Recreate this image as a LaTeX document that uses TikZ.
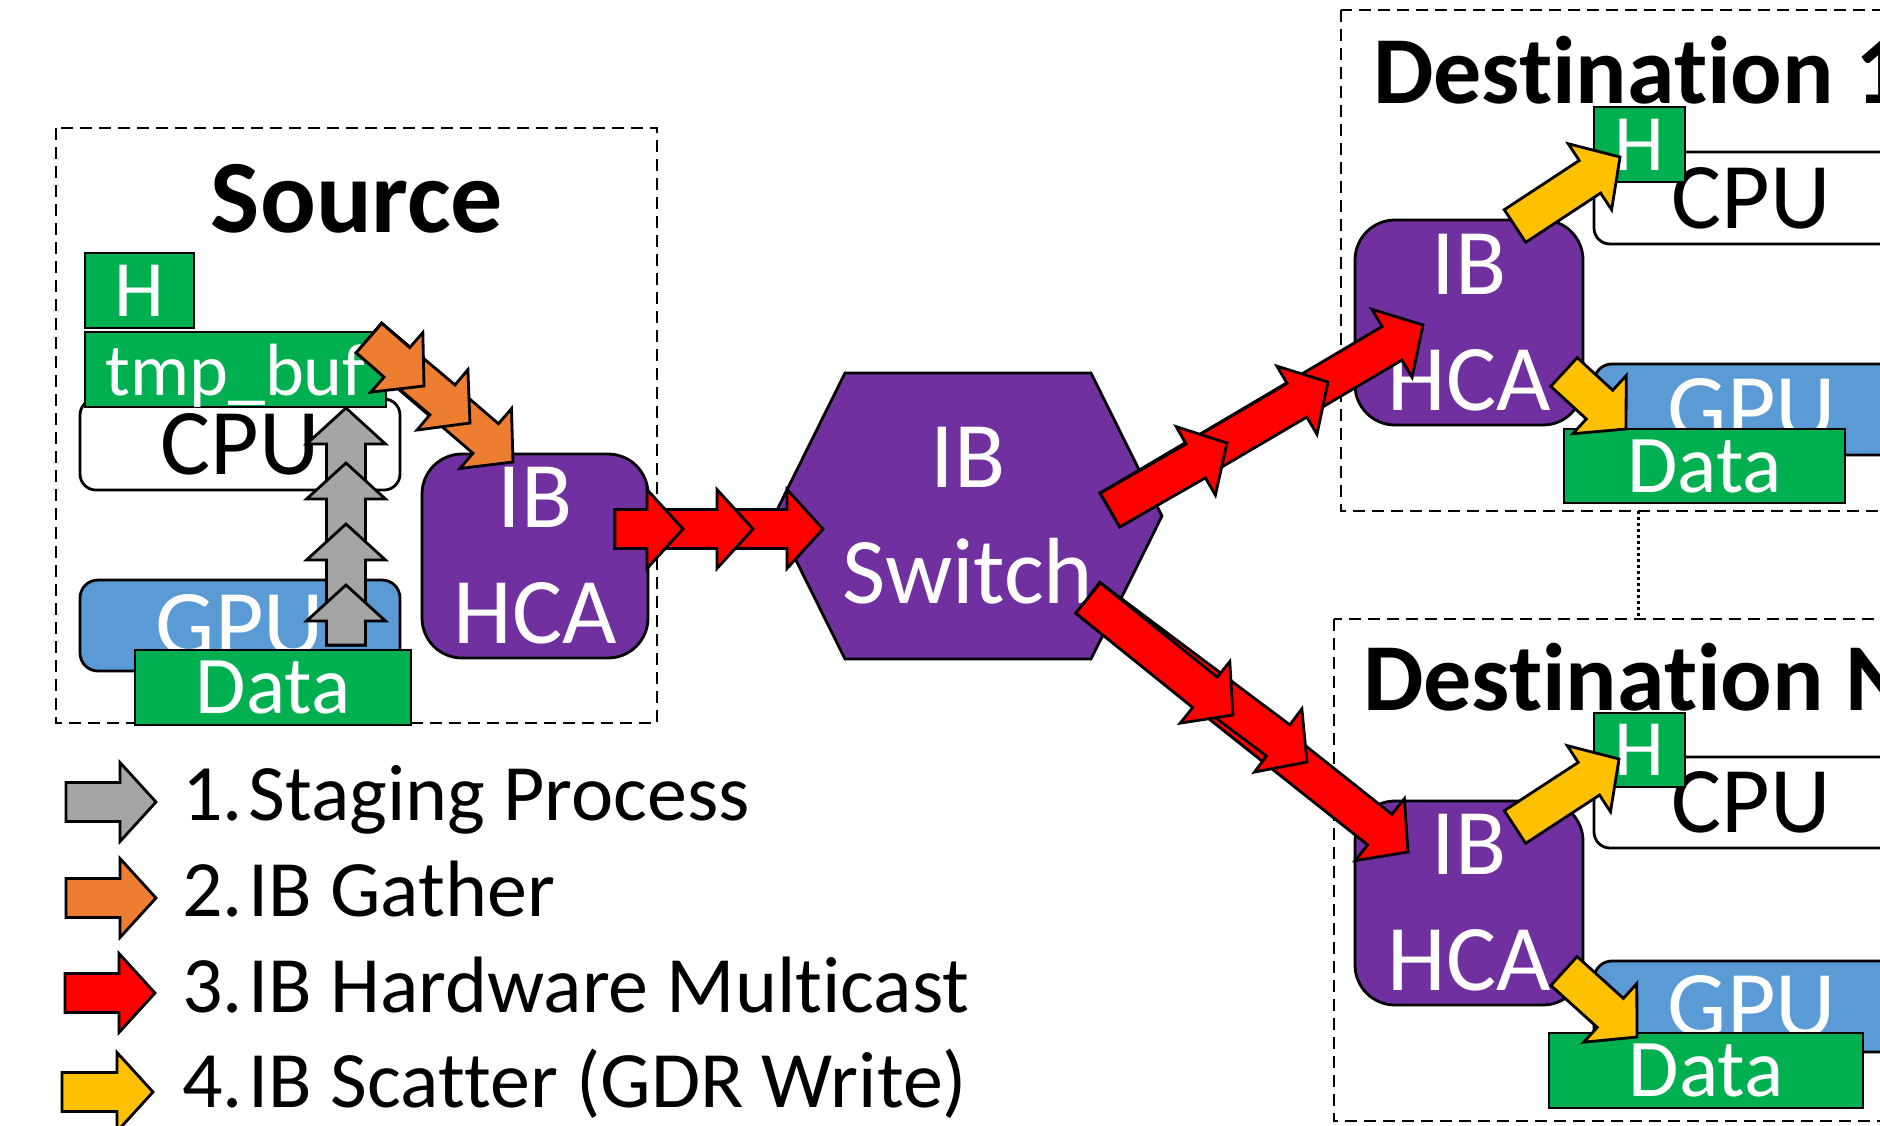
\documentclass[tikz,border=0pt]{standalone}
\usepackage{fontspec}
\setmainfont{Carlito}[Ligatures={NoCommon,NoContextual,NoRare,NoRequired}]
\usetikzlibrary{calc}
\definecolor{ibpurple}{HTML}{7030A0}
\definecolor{bufgreen}{HTML}{00B050}
\definecolor{gpublue}{HTML}{5B9BD5}
\definecolor{stagegray}{HTML}{A5A5A5}
\definecolor{gatherorange}{HTML}{ED7D31}
\definecolor{mcastred}{HTML}{FF0000}
\definecolor{scatteryellow}{HTML}{FFC000}
\newcommand{\blockarrow}[3]{%
  \coordinate (hb) at ($(#3)!36pt!(#2)$);
  \draw[arrowline, fill=#1] ($(#2)!19.5pt!90:(#3)$) -- ($(hb)!19.5pt!90:(#3)$)
    -- ($(hb)!39.5pt!90:(#3)$) -- (#3) -- ($(hb)!39.5pt!-90:(#3)$)
    -- ($(hb)!19.5pt!-90:(#3)$) -- ($(#2)!19.5pt!-90:(#3)$) -- cycle;
}
\begin{document}
\begin{tikzpicture}[x=1pt, y=-1pt,
  every node/.style={inner sep=0pt, outer sep=0pt},
  sz/.style 2 args={minimum width=#1pt, minimum height=#2pt},
  grouprect/.style={line width=2.8pt, dash pattern=on 12pt off 7pt},
  arrowline/.style={draw=black, line width=2.8pt, line join=miter},
  boxtitle/.style={font=\bfseries\fontsize{#1}{#1}\selectfont, anchor=base},
  greenbox/.style={draw, line width=2.8pt, fill=bufgreen, text=white, font=\fontsize{82}{98}\selectfont},
  cpubox/.style={draw, line width=2.8pt, fill=white, rounded corners=16pt, font=\fontsize{94}{112}\selectfont},
  gpubox/.style={draw, line width=2.8pt, fill=gpublue, rounded corners=18pt, text=white, font=\fontsize{94}{112}\selectfont},
  hcabox/.style={draw, line width=2.8pt, fill=ibpurple, rounded corners=40pt, text=white, align=center, font=\fontsize{94}{116}\selectfont},
  legendtext/.style={anchor=base west, font=\fontsize{80}{96}\selectfont}]
\clip (0,0) rectangle (1880,1125);

\draw[grouprect] (56,128) rectangle (657,723);
\node[boxtitle=104] (srctitle) at (357,232) {Source};
\node[greenbox, sz={109}{75}, font=\fontsize{80}{96}\selectfont] (srcH) at (139.5,290.5) {H};
\node[cpubox, sz={320}{91}] (srccpu) at (240,444.5) {CPU};
\node[gpubox, sz={320}{91}] (srcgpu) at (240,625.5) {GPU};
\node[greenbox, sz={301}{75}, text depth=0pt, font=\fontsize{74}{90}\selectfont] (srcbuf) at (235.5,369.5) {tmp\_buf};
\node[greenbox, sz={276}{75}] (srcdata) at (273,687.5) {Data};
\node[hcabox, sz={226}{204}] (srchca) at (535,556) {IB\\HCA};

\coordinate (graytail) at (346,645);
\foreach \y in {408,463,524,585} {
  \coordinate (graytip) at (346,\y);
  \blockarrow{stagegray}{graytail}{graytip}
}
\coordinate (gathertail) at (369,338);
\foreach \x/\y in {513/462,470/423,424/386} {
  \coordinate (gathertip) at (\x,\y);
  \blockarrow{gatherorange}{gathertail}{gathertip}
}

\draw[line width=2.8pt, fill=ibpurple] (845,373) -- (1091,373) -- (1162,516) -- (1091,659) -- (845,659) -- (774,516) -- cycle;
\node[text=white, align=center, font=\fontsize{94}{116}\selectfont] (switch) at (968,516) {IB\\Switch};

\coordinate (mcasttail) at (615,529);
\foreach \x in {823,753,683} {
  \coordinate (mcasttip) at (\x,529);
  \blockarrow{mcastred}{mcasttail}{mcasttip}
}

\draw[grouprect] (1341,10) rectangle (1900,511);
\node[boxtitle=96, anchor=base west] (d1title) at (1373,103) {Destinat\kern0pt ion 1};
\node[cpubox, sz={314}{92}] (d1cpu) at (1751,198) {CPU};
\node[greenbox, sz={91}{75}, font=\fontsize{80}{96}\selectfont] (d1H) at (1639.5,144.5) {H};
\node[hcabox, sz={228}{205}] (d1hca) at (1469,322.5) {IB\\HCA};
\node[gpubox, sz={316}{91}] (d1gpu) at (1752,409.5) {GPU};
\node[greenbox, sz={281}{74}] (d1data) at (1704.5,466) {Data};

\draw[grouprect] (1334,619) rectangle (1900,1121);
\node[boxtitle=96, anchor=base west] (dntitle) at (1363,710) {Destinat\kern0pt ion N};
\node[cpubox, sz={314}{91}] (dncpu) at (1751,802.5) {CPU};
\node[greenbox, sz={91}{74}, font=\fontsize{80}{96}\selectfont] (dnH) at (1639.5,750) {H};
\node[hcabox, sz={228}{204}] (dnhca) at (1469,903) {IB\\HCA};
\node[gpubox, sz={316}{91}] (dngpu) at (1752,1006.5) {GPU};
\node[greenbox, sz={314}{75}] (dndata) at (1706,1070.5) {Data};

\coordinate (d1foot) at (1638,511);
\coordinate (dnhead) at (1638,619);
\draw[line width=3pt, dash pattern=on 3pt off 3pt] (d1foot) -- (dnhead);

\coordinate (d1uptail) at (1515,226);
\coordinate (d1uptip) at (1620,157);
\blockarrow{scatteryellow}{d1uptail}{d1uptip}
\coordinate (d1dntail) at (1564,372);
\coordinate (d1dntip) at (1626,429);
\blockarrow{scatteryellow}{d1dntail}{d1dntip}
\coordinate (dnuptail) at (1515,827);
\coordinate (dnuptip) at (1619,759);
\blockarrow{scatteryellow}{dnuptail}{dnuptip}
\coordinate (dndntail) at (1564,971);
\coordinate (dndntip) at (1637,1037);
\blockarrow{scatteryellow}{dndntail}{dndntip}

\coordinate (uptail) at (1110,510);
\foreach \x/\y in {1423/325,1328/382,1227/443} {
  \coordinate (uptip) at (\x,\y);
  \blockarrow{mcastred}{uptail}{uptip}
}
\coordinate (downtail) at (1088,598);
\foreach \x/\y in {1408/852,1307/762,1233/715} {
  \coordinate (downtip) at (\x,\y);
  \blockarrow{mcastred}{downtail}{downtip}
}

\blockarrow{stagegray}{66,802}{156,802}
\blockarrow{gatherorange}{66,898}{156,898}
\blockarrow{mcastred}{65,993}{155,993}
\blockarrow{scatteryellow}{62,1092}{153,1092}
\node[legendtext] (leg1) at (182,820) {1.\kern6pt Staging Process};
\node[legendtext] (leg2) at (182,916) {2.\kern6pt IB Gather};
\node[legendtext] (leg3) at (182,1012) {3.\kern6pt IB Hardware Mult\kern0pt icast};
\node[legendtext] (leg4) at (182,1107) {4.\kern6pt IB Scat\kern0pt ter (GDR Write)};
\end{tikzpicture}
\end{document}
